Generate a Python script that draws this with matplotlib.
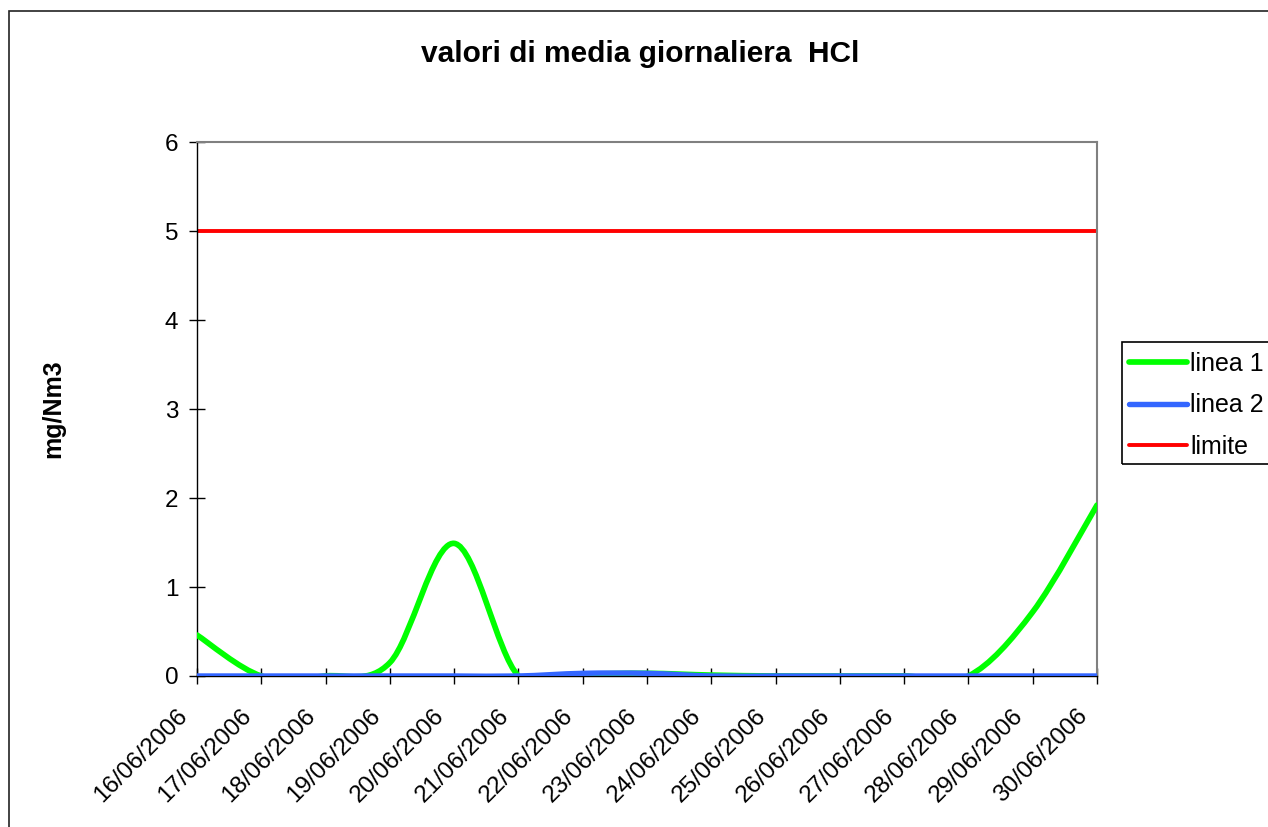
import numpy as np
import matplotlib
matplotlib.use("Agg")
from matplotlib import pyplot as plt
from matplotlib.path import Path
from matplotlib.patches import PathPatch, Rectangle
from matplotlib.lines import Line2D
from matplotlib.transforms import ScaledTranslation

plt.rcParams['font.family'] = ['Liberation Sans', 'DejaVu Sans']

# data (mg/Nm3 per day)
dates = ['16/06/2006', '17/06/2006', '18/06/2006', '19/06/2006', '20/06/2006',
         '21/06/2006', '22/06/2006', '23/06/2006', '24/06/2006', '25/06/2006',
         '26/06/2006', '27/06/2006', '28/06/2006', '29/06/2006', '30/06/2006']
linea1 = [0.46, 0.0, 0.0, 0.15, 1.49, 0.0, 0.02, 0.03, 0.01, 0.0, 0.0, 0.0, 0.0, 0.72, 1.92]
linea2 = [0.0, 0.0, 0.0, 0.0, 0.0, 0.0, 0.03, 0.03, 0.0, 0.0, 0.0, 0.0, 0.0, 0.0, 0.0]
limite = [5] * len(dates)

green = '#00ff00'
blue = '#3366ff'
red = '#ff0000'


def smooth_path(xs, ys):
    # Excel-like smoothed line: bezier segments through every point
    pts = np.column_stack([xs, ys]).astype(float)
    n = len(pts)
    verts = [pts[0]]
    codes = [Path.MOVETO]
    for i in range(n - 1):
        p0 = pts[max(i - 1, 0)]
        p1 = pts[i]
        p2 = pts[i + 1]
        p3 = pts[min(i + 2, n - 1)]
        c1 = p1 + (p2 - p0) / 6.0
        c2 = p2 - (p3 - p1) / 6.0
        verts += [c1, c2, p2]
        codes += [Path.CURVE4] * 3
    return Path(verts, codes)


fig = plt.figure(figsize=(12.68, 8.27), dpi=100)
ax = fig.add_axes([197 / 1268, 1 - 676 / 827, 900 / 1268, 534 / 827])

x = np.arange(len(dates))
ax.plot(x, limite, color=red, lw=2.8, zorder=2, solid_capstyle='butt')
ax.add_patch(PathPatch(smooth_path(x, linea1), fill=False, edgecolor=green,
                       lw=4.1, zorder=3, capstyle='round'))
ax.add_patch(PathPatch(smooth_path(x, linea2), fill=False, edgecolor=blue,
                       lw=3.9, zorder=4, capstyle='butt'))

ax.set_xlim(0, len(dates) - 1)
ax.set_ylim(0, 6)
ax.set_yticks(range(0, 7))
ax.set_xticks(x)
ax.set_xticklabels(dates, rotation=45, ha='right', rotation_mode='anchor')
ax.tick_params(axis='both', direction='inout', length=11, width=1,
               labelsize=17.5, color='black')
ax.tick_params(axis='y', pad=8)
ax.tick_params(axis='x', pad=15)
shift = ScaledTranslation(-21 / 100, 0, fig.dpi_scale_trans)
for lab in ax.get_xticklabels():
    lab.set_transform(lab.get_transform() + shift)

for s in ['top', 'right']:
    ax.spines[s].set_color('#808080')
    ax.spines[s].set_linewidth(1.5)
for s in ['left', 'bottom']:
    ax.spines[s].set_color('black')
    ax.spines[s].set_linewidth(1)

fig.text(53 / 1268, 1 - 409 / 827, 'mg/Nm3', fontsize=18, fontweight='bold',
         rotation=90, ha='center', va='center')
fig.text(640 / 1268, 1 - 62 / 827, 'valori di media giornaliera  HCl',
         fontsize=21.5, fontweight='bold', ha='center', va='baseline')

# outer chart frame (runs off the right and bottom edges)
fig.patches.append(Rectangle((9 / 1268, -0.05), 1.1, 1 - 11 / 827 + 0.05,
                             transform=fig.transFigure, fill=False,
                             edgecolor='#222222', lw=1.2))

# legend
handles = [Line2D([], [], color=green, lw=4.1, solid_capstyle='round'),
           Line2D([], [], color=blue, lw=3.9, solid_capstyle='round'),
           Line2D([], [], color=red, lw=2.8, solid_capstyle='round')]
fig.legend(handles, ['linea 1', 'linea 2', 'limite'], loc='upper left',
           bbox_to_anchor=(1129 / 1268, 1 - 352 / 827), frameon=False,
           fontsize=18, handlelength=2.3, handletextpad=0.16,
           labelspacing=0.70, borderaxespad=0, borderpad=0)
fig.patches.append(Rectangle((1122 / 1268, 1 - 464 / 827), 0.2, 122 / 827,
                             transform=fig.transFigure, fill=False,
                             edgecolor='black', lw=1.2))

fig.savefig('out.png', dpi=100)
